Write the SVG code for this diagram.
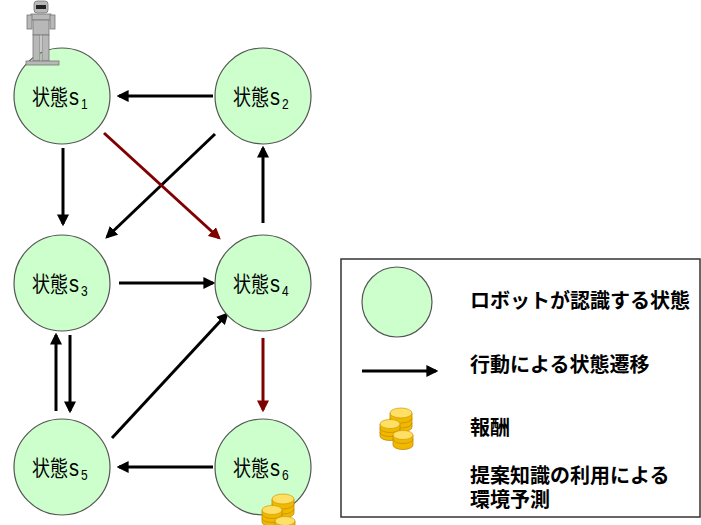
<svg xmlns="http://www.w3.org/2000/svg" width="701" height="525" viewBox="0 0 701 525">
  <defs>
    <style>
      .state { fill: #ccffcc; stroke: #555; stroke-width: 1.2; }
      .lbl { font-family: "Liberation Sans", "Noto Sans CJK JP", sans-serif; fill: #000; }
      .kj { font-size: 18px; }
      .s { font-size: 20px; }
      .sub { font-size: 12px; }
      .leg { font-family: "Liberation Sans", "Noto Sans CJK JP", sans-serif; font-size: 20px; font-weight: bold; fill: #000; }
      .arr { stroke: #000; stroke-width: 3; fill: none; marker-end: url(#hd); }
      .arr-r { stroke: #800000; stroke-width: 3; fill: none; marker-end: url(#hdr); }
      .coin { fill: #f0b800; stroke: #c08a00; stroke-width: 0.8; }
      .coin-top { fill: #ffe066; stroke: #d09c00; stroke-width: 0.7; }
      .ridge { stroke: #c99000; stroke-width: 0.8; fill: none; }
      .rb { fill: #b8b8b8; stroke: #777; stroke-width: 0.8; }
    </style>
    <marker id="hd" viewBox="0 0 10 10" refX="8" refY="5" markerWidth="4" markerHeight="4" orient="auto" markerUnits="strokeWidth">
      <path d="M0,0 L10,5 L0,10 Z" fill="#000"/>
    </marker>
    <marker id="hdr" viewBox="0 0 10 10" refX="8" refY="5" markerWidth="4" markerHeight="4" orient="auto" markerUnits="strokeWidth">
      <path d="M0,0 L10,5 L0,10 Z" fill="#800000"/>
    </marker>
    <!-- three small stacks of gold coins -->
    <g id="coins">
      <!-- back stack -->
      <path class="coin" d="M10,5 v14 a11,5 0 0 0 22,0 v-14 z"/>
      <path class="ridge" d="M10,10 a11,5 0 0 0 22,0 M10,15 a11,5 0 0 0 22,0"/>
      <ellipse class="coin-top" cx="21" cy="5" rx="11" ry="5"/>
      <!-- left stack -->
      <path class="coin" d="M0,16 v12 a10,4.5 0 0 0 20,0 v-12 z"/>
      <path class="ridge" d="M0,20 a10,4.5 0 0 0 20,0 M0,24 a10,4.5 0 0 0 20,0"/>
      <ellipse class="coin-top" cx="10" cy="16" rx="10" ry="4.5"/>
      <!-- front stack -->
      <path class="coin" d="M13,27 v10 a10,4.5 0 0 0 20,0 v-10 z"/>
      <path class="ridge" d="M13,31 a10,4.5 0 0 0 20,0"/>
      <ellipse class="coin-top" cx="23" cy="27" rx="10" ry="4.5"/>
    </g>
  </defs>

  <rect width="701" height="525" fill="#fff"/>

  <!-- transitions -->
  <g id="connectors">
    <line class="arr" x1="213" y1="96" x2="119" y2="96"/>
    <line class="arr" x1="63" y1="148" x2="63" y2="224"/>
    <line class="arr" x1="215" y1="134" x2="107" y2="237"/>
    <line class="arr-r" x1="104" y1="133" x2="219" y2="238"/>
    <line class="arr" x1="263" y1="223" x2="263" y2="148"/>
    <line class="arr" x1="119" y1="283" x2="213" y2="283"/>
    <line class="arr-r" x1="263" y1="338" x2="263" y2="410"/>
    <line class="arr" x1="56" y1="411" x2="56" y2="335"/>
    <line class="arr" x1="70" y1="335" x2="70" y2="411"/>
    <line class="arr" x1="112" y1="438" x2="227" y2="314"/>
    <line class="arr" x1="213" y1="467" x2="119" y2="467"/>
  </g>

  <g id="s1">
    <circle class="state" cx="62" cy="96" r="48"/>
    <text class="lbl" transform="translate(32,105) scale(1,1.2)"><tspan class="kj">状態</tspan><tspan class="s" dx="1">s</tspan><tspan class="sub" dx="2" dy="3">1</tspan></text>
  </g>
  <g id="robot">
    <rect class="rb" x="34" y="1" width="14" height="12" rx="3"/>
    <rect x="36" y="5" width="10" height="4" fill="#222"/>
    <rect class="rb" x="31" y="14" width="20" height="6"/>
    <rect class="rb" x="27" y="15" width="5" height="14"/>
    <rect class="rb" x="50" y="15" width="5" height="14"/>
    <rect class="rb" x="33" y="20" width="16" height="15"/>
    <rect class="rb" x="33" y="35" width="7" height="26"/>
    <rect class="rb" x="42" y="35" width="7" height="26"/>
    <rect class="rb" x="26" y="61" width="33" height="4"/>
  </g>
  <g id="s2">
    <circle class="state" cx="263" cy="96" r="48"/>
    <text class="lbl" transform="translate(233,105) scale(1,1.2)"><tspan class="kj">状態</tspan><tspan class="s" dx="1">s</tspan><tspan class="sub" dx="2" dy="3">2</tspan></text>
  </g>
  <g id="s3">
    <circle class="state" cx="62" cy="283" r="48"/>
    <text class="lbl" transform="translate(32,292) scale(1,1.2)"><tspan class="kj">状態</tspan><tspan class="s" dx="1">s</tspan><tspan class="sub" dx="2" dy="3">3</tspan></text>
  </g>
  <g id="s4">
    <circle class="state" cx="263" cy="283" r="48"/>
    <text class="lbl" transform="translate(233,292) scale(1,1.2)"><tspan class="kj">状態</tspan><tspan class="s" dx="1">s</tspan><tspan class="sub" dx="2" dy="3">4</tspan></text>
  </g>
  <g id="s5">
    <circle class="state" cx="62" cy="467" r="48"/>
    <text class="lbl" transform="translate(32,476) scale(1,1.2)"><tspan class="kj">状態</tspan><tspan class="s" dx="1">s</tspan><tspan class="sub" dx="2" dy="3">5</tspan></text>
  </g>
  <g id="s6">
    <circle class="state" cx="263" cy="467" r="48"/>
    <text class="lbl" transform="translate(233,476) scale(1,1.2)"><tspan class="kj">状態</tspan><tspan class="s" dx="1">s</tspan><tspan class="sub" dx="2" dy="3">6</tspan></text>
    <use href="#coins" x="262" y="494"/>
  </g>

  <!-- legend -->
  <g id="legend">
    <rect x="341" y="259" width="359" height="258" fill="#fff" stroke="#333" stroke-width="1.5"/>
    <circle class="state" cx="397" cy="302" r="35"/>
    <text class="leg" x="470" y="308">ロボットが認識する状態</text>
    <line class="arr" x1="362" y1="371" x2="436" y2="371"/>
    <text class="leg" x="470" y="372">行動による状態遷移</text>
    <use href="#coins" x="380" y="408"/>
    <text class="leg" x="470" y="435">報酬</text>
    <text class="leg" x="470" y="483">提案知識の利用による</text>
    <text class="leg" x="470" y="507">環境予測</text>
  </g>
</svg>
